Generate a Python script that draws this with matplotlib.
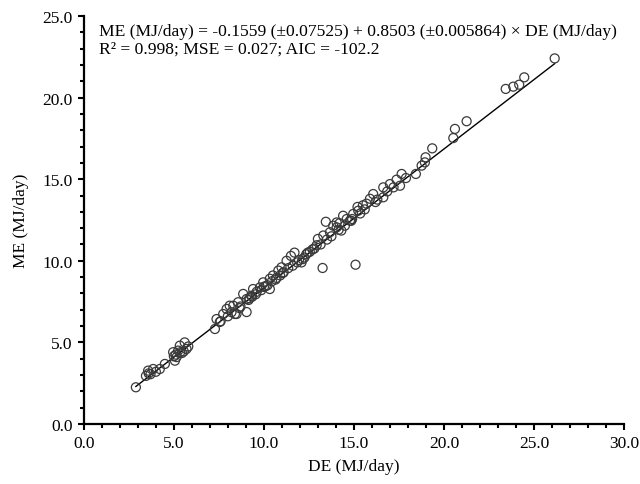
import matplotlib
matplotlib.use("Agg")
import matplotlib.pyplot as plt
from matplotlib.ticker import MultipleLocator, FormatStrFormatter
import numpy as np

plt.rcParams['font.family'] = ['Liberation Serif', 'DejaVu Serif']

# Observed data (DE, ME), MJ/day
de = [2.89, 3.45, 3.57, 3.70, 3.85, 4.00, 4.22, 4.50, 4.96, 5.06, 5.15, 5.24, 5.33, 5.45,
      5.60, 5.70, 5.55, 5.10, 7.28, 7.37, 7.55, 7.74, 7.93, 8.10, 8.30, 8.39, 8.48, 8.57,
      8.70, 8.85, 9.04, 9.04, 9.20, 9.30, 9.40, 9.55, 9.78, 9.96, 10.10, 10.33, 10.33, 10.50,
      10.65, 10.80, 10.98, 11.10, 11.26, 11.50, 11.70, 11.85, 12.09, 12.25, 12.44, 12.70,
      12.93, 13.00, 13.30, 13.44, 13.67, 13.85, 14.04, 14.04, 14.20, 14.30, 14.40, 14.60,
      14.78, 14.90, 14.96, 15.20, 15.24, 15.50, 15.70, 15.89, 16.07, 16.30, 16.63, 16.63,
      17.00, 17.37, 17.56, 17.65, 17.89, 18.44, 18.76, 18.94, 18.98, 19.35, 20.52, 20.61,
      21.26, 23.43, 23.85, 24.18, 24.46, 26.15, 13.26, 15.09,
      7.60, 8.00, 8.20, 8.65, 9.15, 9.60, 9.85, 10.20, 10.45, 10.70, 10.90, 11.35, 11.60,
      11.95, 12.15, 12.55, 12.80, 13.15, 13.50, 13.75, 14.15, 14.50, 14.85, 15.35, 15.60,
      16.20, 16.85, 17.20, 10.00, 9.35, 11.05, 12.35, 5.35, 5.80, 3.60, 5.00]
me = [2.25, 2.95, 3.27, 3.05, 3.37, 3.20, 3.37, 3.68, 4.40, 3.88, 4.10, 4.50, 4.80, 4.35,
      5.00, 4.60, 4.45, 4.25, 5.82, 6.43, 6.25, 6.74, 7.05, 7.25, 7.25, 6.74, 6.74, 7.46,
      7.20, 7.97, 7.66, 6.86, 7.70, 7.86, 8.27, 7.95, 8.37, 8.68, 8.45, 8.90, 8.27, 9.10,
      8.85, 9.40, 9.60, 9.30, 10.00, 10.30, 10.50, 9.90, 9.90, 10.20, 10.50, 10.70,
      10.95, 11.34, 11.55, 12.39, 11.75, 12.15, 12.35, 12.05, 12.30, 11.85, 12.76, 12.56,
      12.46, 12.56, 12.87, 13.30, 13.07, 13.40, 13.50, 13.80, 14.09, 13.75, 14.50, 13.89,
      14.70, 14.97, 14.60, 15.32, 15.07, 15.32, 15.83, 16.03, 16.34, 16.89, 17.52, 18.08,
      18.55, 20.53, 20.67, 20.79, 21.24, 22.40, 9.56, 9.76,
      6.30, 6.60, 6.85, 7.10, 7.60, 8.10, 8.20, 8.50, 8.75, 8.95, 9.10, 9.55, 9.70,
      10.05, 10.10, 10.55, 10.75, 11.00, 11.30, 11.50, 11.90, 12.15, 12.45, 12.90, 13.15,
      13.60, 14.25, 14.50, 8.40, 7.80, 9.25, 10.40, 4.40, 4.75, 3.10, 4.15]

intercept = -0.1559
slope = 0.8503

equation = "ME (MJ/day) = -0.1559 (\u00b10.07525) + 0.8503 (\u00b10.005864) \u00d7 DE (MJ/day)"
stats_text = "R\u00b2 = 0.998; MSE = 0.027; AIC = -102.2"

fig = plt.figure(figsize=(6.4, 4.85), dpi=100)
ax = fig.add_axes([0.131, 0.1237, 0.844, 0.8413])

xl = np.array([min(de), max(de)])
ax.plot(xl, intercept + slope * xl, color='black', lw=1.0, zorder=2)
ax.scatter(de, me, s=42, facecolors='none', edgecolors='#3a3a3a', linewidths=0.9, zorder=3)

ax.set_xlim(0, 30)
ax.set_ylim(0, 25)
ax.xaxis.set_major_locator(MultipleLocator(5))
ax.xaxis.set_minor_locator(MultipleLocator(1))
ax.yaxis.set_major_locator(MultipleLocator(5))
ax.yaxis.set_minor_locator(MultipleLocator(1))
ax.xaxis.set_major_formatter(FormatStrFormatter('%.1f'))
ax.yaxis.set_major_formatter(FormatStrFormatter('%.1f'))
for s in ['top', 'right']:
    ax.spines[s].set_visible(False)
for s in ['left', 'bottom']:
    ax.spines[s].set_linewidth(1.6)
ax.tick_params(which='major', direction='out', length=4, width=1.5, labelsize=12.5, pad=4)
ax.tick_params(which='minor', direction='out', length=3, width=1.5)

ax.set_xlabel("DE (MJ/day)", fontsize=12.5, labelpad=5)
ax.set_ylabel("ME (MJ/day)", fontsize=12.5, labelpad=10)

ax.text(0.028, 0.963, equation, transform=ax.transAxes, fontsize=12.6, va='center', ha='left')
ax.text(0.028, 0.919, stats_text, transform=ax.transAxes, fontsize=12.6, va='center', ha='left')

fig.savefig("out.png", dpi=100)
